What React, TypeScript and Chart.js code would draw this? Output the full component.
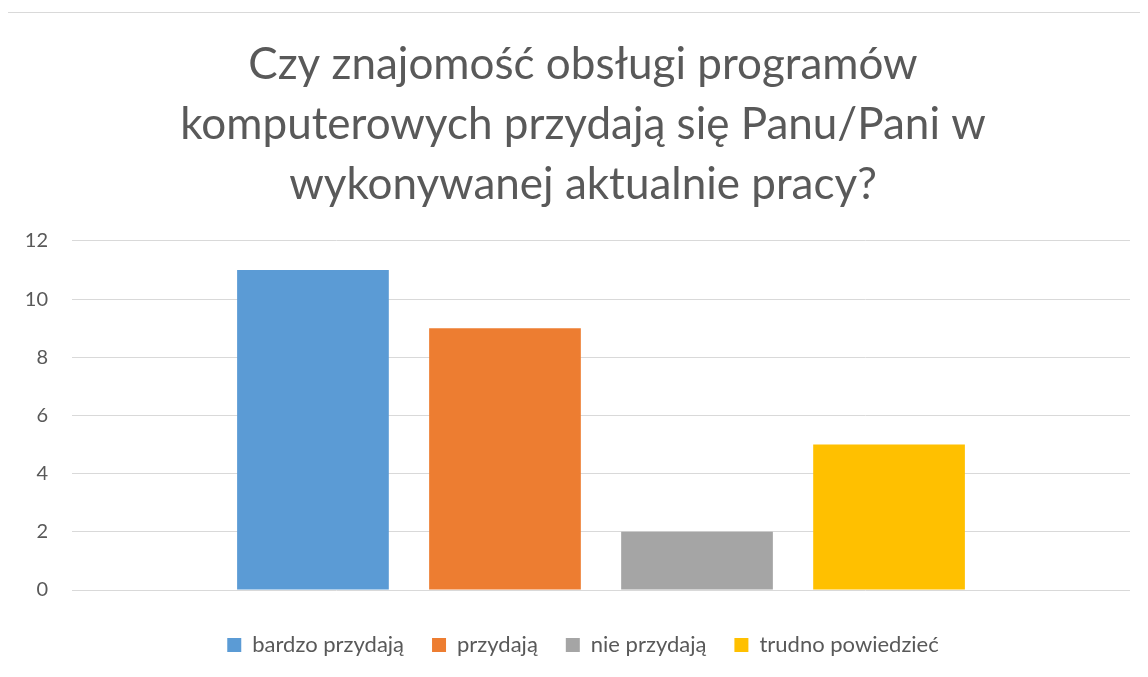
import React, { useEffect, useRef } from "react";
import { Chart, registerables } from "chart.js";

Chart.register(...registerables);

const titleLines = [
  "Czy znajomość obsługi programów",
  "komputerowych przydają się Panu/Pani w",
  "wykonywanej aktualnie pracy?",
];
const categories = [""];
const seriesNames = ["bardzo przydają", "przydają", "nie przydają", "trudno powiedzieć"];
const seriesValues = [[11], [9], [2], [5]];
const seriesColors = ["#5B9BD5", "#ED7D31", "#A5A5A5", "#FFC000"];
const yMin = 0;
const yMax = 12;
const yStep = 2;

export default function App() {
  const ref = useRef<HTMLCanvasElement | null>(null);
  useEffect(() => {
    document.body.style.overflow = "hidden";
    if (!ref.current) return;
    const font = "Lato, 'Open Sans', sans-serif";
    const chart = new Chart(ref.current, {
      type: "bar",
      data: {
        labels: categories,
        datasets: seriesNames.map((name, i) => ({
          label: name,
          data: seriesValues[i],
          backgroundColor: seriesColors[i],
          borderWidth: 0,
          categoryPercentage: 0.726,
          barPercentage: 0.79,
        })),
      },
      options: {
        animation: false,
        responsive: false,
        maintainAspectRatio: false,
        layout: { padding: 0 },
        plugins: {
          title: {
            display: true,
            text: titleLines,
            color: "#595959",
            font: { family: font, size: 44, weight: "normal", lineHeight: 60 / 44 },
            padding: { top: 22, bottom: 26 },
          },
          legend: {
            display: true,
            position: "bottom",
            labels: {
              color: "#595959",
              font: { family: font, size: 22 },
              boxWidth: 14,
              boxHeight: 14,
              padding: 28,
            },
          },
          tooltip: { enabled: false },
        },
        scales: {
          x: {
            display: true,
            grid: { display: false },
            border: { display: false },
            ticks: { display: false },
            afterFit: (scale: any) => {
              scale.height = 16;
            },
          },
          y: {
            min: yMin,
            max: yMax,
            grid: { color: "#D9D9D9", lineWidth: 1, drawTicks: false },
            border: { display: false },
            ticks: {
              stepSize: yStep,
              color: "#595959",
              font: { family: font, size: 20 },
              padding: 24,
            },
            afterFit: (scale: any) => {
              scale.width = 64;
            },
          },
          yR: {
            position: "right",
            display: true,
            grid: { display: false },
            border: { display: false },
            ticks: { display: false },
            afterFit: (scale: any) => {
              scale.width = 28;
            },
          },
        },
      },
    });
    return () => chart.destroy();
  }, []);
  return (
    <div style={{ width: 1140, height: 665, overflow: "hidden" }}>
      <div
        style={{
          marginTop: 4,
          marginLeft: -1,
          width: 1152,
          height: 700,
          border: "1px solid #D9D9D9",
          background: "#fff",
        }}
      >
        <canvas ref={ref} width={1150} height={653} style={{ display: "block" }} />
      </div>
    </div>
  );
}
